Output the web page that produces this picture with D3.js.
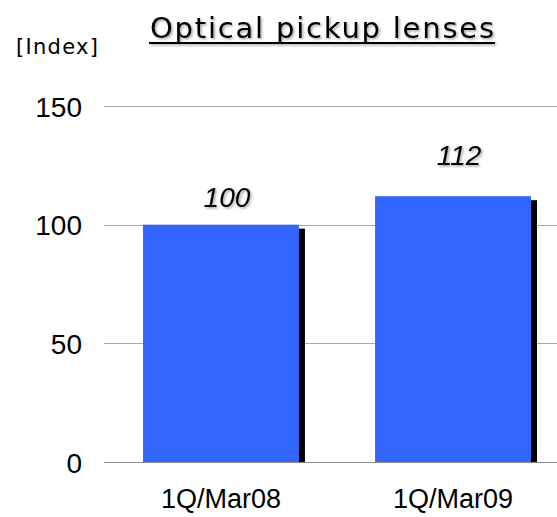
<!DOCTYPE html>
<html>
<head>
<meta charset="utf-8">
<script src="https://cdn.jsdelivr.net/npm/d3@7"></script>
<style>
  html, body { margin: 0; padding: 0; background: #fff; }
  svg { display: block; }
  text { font-family: "Liberation Sans", Arial, sans-serif; fill: #000; }
</style>
</head>
<body>
<svg id="chart" width="557" height="517"></svg>
<script>
// Chart data
const categories = ["1Q/Mar08", "1Q/Mar09"];
const indexValues = [100, 112];
const tickValues = [0, 50, 100, 150];

const svg = d3.select("#chart");
const plot = { left: 104, right: 557, top: 106, bottom: 462 };

// Bars occupy a fixed band inside the plot
const x = d3.scaleBand()
  .domain(categories)
  .range([143, 531])
  .paddingInner(0.328)
  .paddingOuter(0);

const y = d3.scaleLinear().domain([0, 150]).range([plot.bottom, plot.top]);

const defs = svg.append("defs");
const f = defs.append("filter").attr("id", "soft")
  .attr("x", "-20%").attr("y", "-30%").attr("width", "140%").attr("height", "160%");
f.append("feDropShadow").attr("dx", 1.5).attr("dy", 1.5).attr("stdDeviation", 0.9)
  .attr("flood-color", "#000").attr("flood-opacity", 0.35);

// Gridlines
svg.append("g").selectAll("line").data(tickValues).join("line")
  .attr("x1", plot.left).attr("x2", plot.right)
  .attr("y1", d => Math.round(y(d)) + 0.5).attr("y2", d => Math.round(y(d)) + 0.5)
  .attr("stroke", d => d === 0 ? "#8c8c8c" : "#a8a8a8").attr("stroke-width", 1);

// Y axis labels
const yAxis = d3.axisLeft(y).tickValues(tickValues).tickSize(0).tickPadding(0);
const gy = svg.append("g").attr("transform", `translate(${plot.left - 22},0)`).call(yAxis);
gy.select(".domain").remove();
gy.selectAll("text")
  .style("font-family", "Liberation Sans, Arial, sans-serif")
  .style("font-size", "28px").attr("fill", "#000").attr("dy", "0.36em");

// X axis labels
const xAxis = d3.axisBottom(x).tickSize(0).tickPadding(0);
const gx = svg.append("g").attr("transform", `translate(0,${plot.bottom + 46})`).call(xAxis);
gx.select(".domain").remove();
gx.selectAll("text")
  .style("font-family", "Liberation Sans, Arial, sans-serif")
  .style("font-size", "27px").attr("fill", "#000").attr("dy", "0");

// Bar shadows, then bars
const bars = svg.append("g");
bars.selectAll("rect.shadow").data(indexValues).join("rect")
  .attr("class", "shadow")
  .attr("x", (d, i) => x(categories[i]) + 6)
  .attr("y", d => y(d) + 4)
  .attr("width", x.bandwidth())
  .attr("height", d => plot.bottom - y(d) - 4)
  .attr("fill", "#000");
bars.selectAll("rect.bar").data(indexValues).join("rect")
  .attr("class", "bar")
  .attr("x", (d, i) => x(categories[i]))
  .attr("y", d => y(d))
  .attr("width", x.bandwidth())
  .attr("height", d => plot.bottom - y(d))
  .attr("fill", "#3366ff");

// Value labels (italic, lifted above each bar)
const labelLift = [18, 31];
svg.append("g").selectAll("text").data(indexValues).join("text")
  .attr("x", (d, i) => x(categories[i]) + x.bandwidth() / 2 + 6)
  .attr("y", (d, i) => y(d) - labelLift[i])
  .attr("text-anchor", "middle")
  .attr("filter", "url(#soft)")
  .style("font-size", "28px")
  .style("font-style", "italic")
  .text(d => d);

// Title with underline
const titleG = svg.append("g").attr("filter", "url(#soft)");
titleG.append("text")
  .attr("x", 150).attr("y", 38)
  .attr("textLength", 344)
  .attr("lengthAdjust", "spacing")
  .style("font-family", "DejaVu Sans, Verdana, sans-serif")
  .style("font-size", "29px")
  .text("Optical pickup lenses");
titleG.append("line")
  .attr("x1", 149).attr("x2", 495)
  .attr("y1", 43).attr("y2", 43)
  .attr("stroke", "#000").attr("stroke-width", 2);

// Unit label
svg.append("text")
  .attr("x", 16).attr("y", 54)
  .attr("textLength", 82)
  .attr("lengthAdjust", "spacing")
  .style("font-family", "DejaVu Sans, Verdana, sans-serif")
  .style("font-size", "21px")
  .text("[Index]");
</script>
</body>
</html>
